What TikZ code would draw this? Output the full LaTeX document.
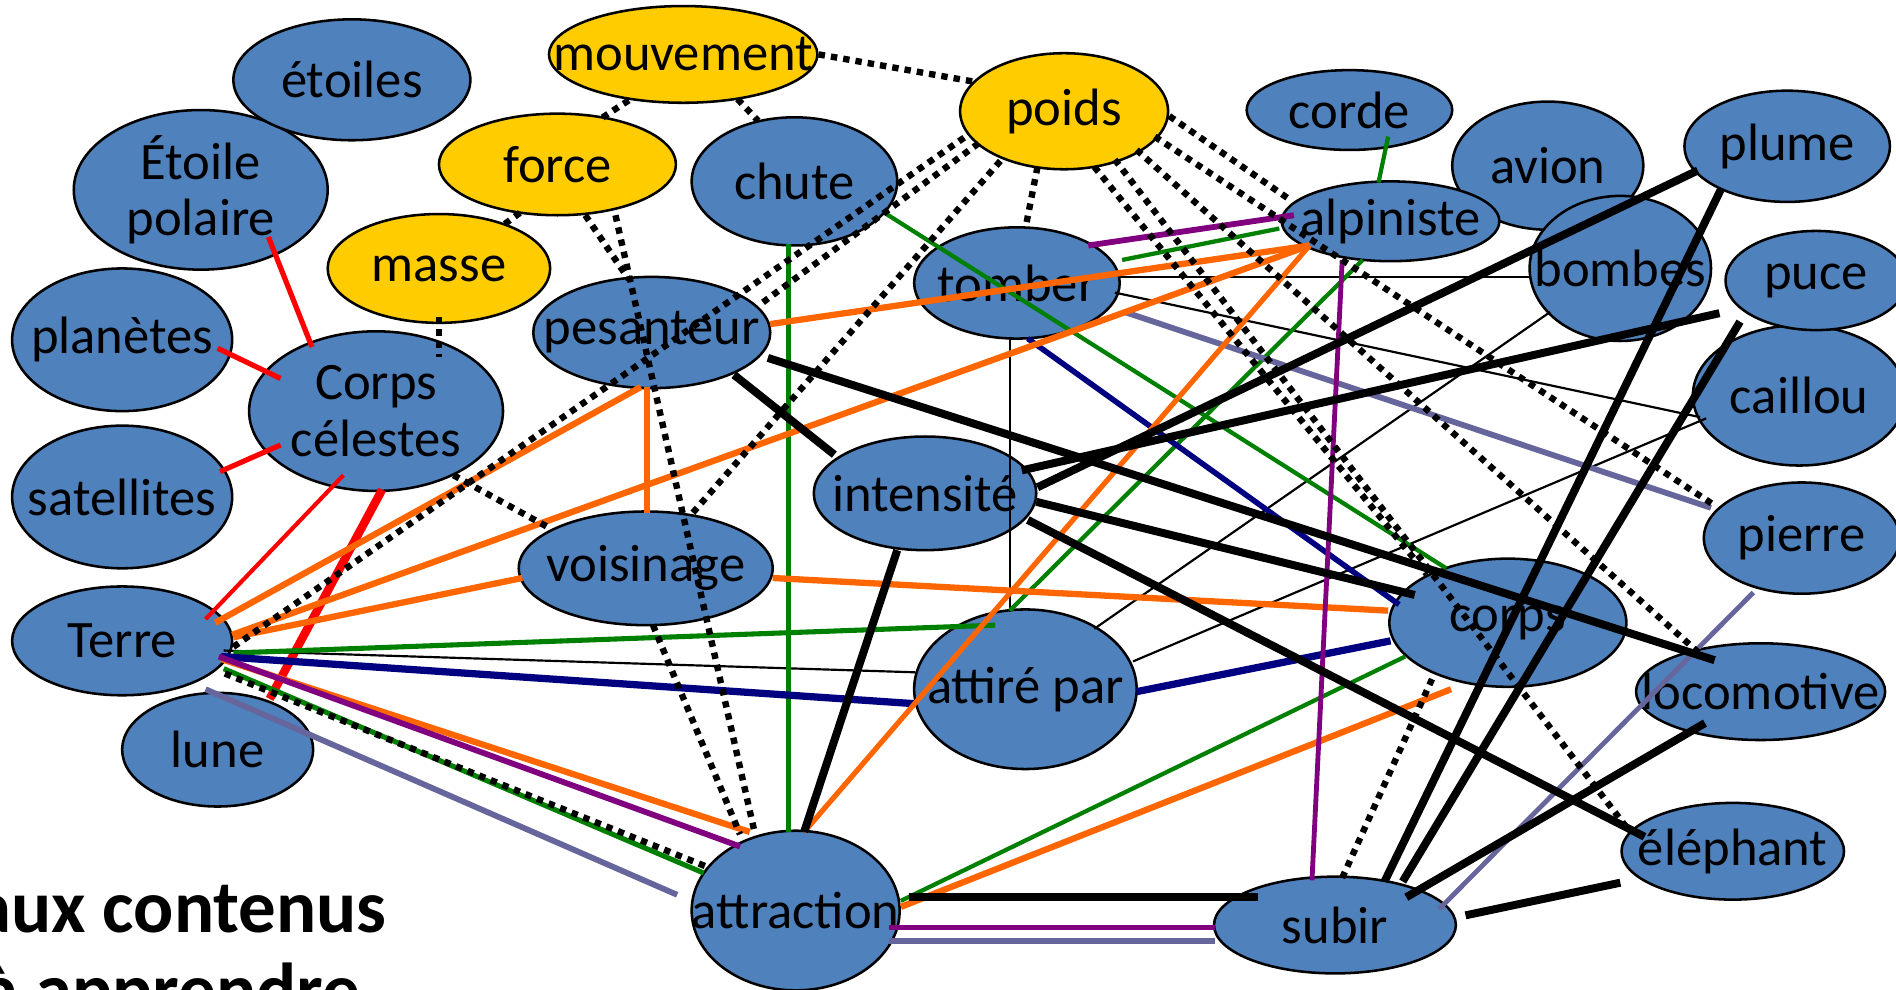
\documentclass[tikz,border=0pt]{standalone}
\usepackage{fontspec}
\setmainfont{Carlito}
\usetikzlibrary{shapes.geometric,calc}
\pgfdeclarelayer{bg}
\pgfsetlayers{bg,main}
\definecolor{nblue}{HTML}{4F81BD}
\definecolor{nyel}{HTML}{FFCC00}
\definecolor{cor}{HTML}{FF6600}
\definecolor{cgr}{HTML}{008000}
\definecolor{cpu}{HTML}{800080}
\definecolor{cnv}{HTML}{000080}
\definecolor{cgy}{HTML}{66669C}
\definecolor{cred}{HTML}{FF0000}
\tikzset{
  blob/.style={ellipse, draw=black, line width=2.1pt, fill=nblue, inner sep=0pt},
  yel/.style={blob, fill=nyel},
  lbl/.style={font=\fontsize{43.5}{47}\selectfont, inner sep=0pt, align=center},
  redl/.style={draw=cred, line width=4.3pt},
  redk/.style={draw=cred, line width=7pt},
  dots/.style={draw=black, line width=5.3pt, dash pattern=on 5.3pt off 5pt},
  thinb/.style={draw=black, line width=1.8pt},
  navyl/.style={draw=cnv, line width=4.6pt},
  greenl/.style={draw=cgr, line width=3.5pt},
  orl/.style={draw=cor, line width=5.2pt},
  purl/.style={draw=cpu, line width=4.8pt},
  greyl/.style={draw=cgy, line width=4.8pt},
  blk/.style={draw=black, line width=6.6pt},
  bigtxt/.style={font=\fontsize{62}{66}\selectfont\bfseries, inner sep=0pt}
}
\begin{document}
\begin{tikzpicture}[x=1pt,y=-1pt]
\useasboundingbox (0,0) rectangle (1568,818);
\clip (0,0) rectangle (1568,818);
\fill[white] (0,0) rectangle (1568,818);

% ---------- nodes ----------
\node[blob, minimum width=210, minimum height=132, label={[lbl]center:{Étoile\\polaire}}] (polaire) at (166,157) {};
\node[blob, minimum width=196, minimum height=100, label={[lbl]center:étoiles}] (etoiles) at (291,66) {};
\node[blob, minimum width=182, minimum height=118, label={[lbl]center:planètes}] (planetes) at (101,281) {};
\node[blob, minimum width=182, minimum height=118, label={[lbl]center:satellites}] (satellites) at (101,411) {};
\node[blob, minimum width=182, minimum height=90, label={[lbl]center:Terre}] (terre) at (101,530) {};
\node[blob, minimum width=158, minimum height=94, label={[lbl]center:lune}] (lune) at (180,620) {};
\node[blob, minimum width=210, minimum height=132, label={[lbl]center:{Corps\\célestes}}] (celestes) at (311,340) {};
\node[yel, minimum width=184, minimum height=90, label={[lbl]center:masse}] (masse) at (363,222) {};
\node[yel, minimum width=196, minimum height=84, label={[lbl]center:force}] (force) at (461,136) {};
\node[yel, minimum width=222, minimum height=80, label={[lbl]center:mouvement}] (mouvement) at (565,45) {};
\node[blob, minimum width=170, minimum height=106, label={[lbl]center:chute}] (chute) at (657,150) {};
\node[yel, minimum width=172, minimum height=96, label={[lbl]center:poids}] (poids) at (880,92) {};
\node[blob, minimum width=170, minimum height=66, label={[lbl]center:corde}] (corde) at (1116,91) {};
\node[blob, minimum width=158, minimum height=106, label={[lbl]center:avion}] (avion) at (1280,137) {};
\node[blob, minimum width=170, minimum height=92, label={[lbl]center:plume}] (plume) at (1478,121) {};
\node[blob, minimum width=150, minimum height=120, label={[lbl]center:bombes}] (bombes) at (1340,222) {};
\node[blob, minimum width=180, minimum height=66, label={[lbl]center:alpiniste}] (alpiniste) at (1150,183) {};
\node[blob, minimum width=176, minimum height=116, label={[lbl]center:caillou}] (caillou) at (1488,327) {};
\node[blob, minimum width=150, minimum height=82, label={[lbl]center:puce}] (puce) at (1502,232) {};
\node[blob, minimum width=162, minimum height=92, label={[lbl]center:pierre}] (pierre) at (1490,445) {};
\node[blob, minimum width=170, minimum height=92, label={[lbl]center:tomber}] (tomber) at (841,234) {};
\node[blob, minimum width=196, minimum height=92, label={[lbl]center:pesanteur}] (pesanteur) at (539,275) {};
\node[blob, minimum width=184, minimum height=94, label={[lbl]center:intensité}] (intensite) at (765,408) {};
\node[blob, minimum width=210, minimum height=94, label={[lbl]center:voisinage}] (voisinage) at (534,470) {};
\node[blob, minimum width=184, minimum height=132, label={[lbl]center:attiré par}] (attire) at (848,570) {};
\node[blob, minimum width=196, minimum height=106, label={[lbl]center:corps}] (corps) at (1247,515) {};
\node[blob, minimum width=206, minimum height=80, label={[lbl]center:locomotive}] (locomotive) at (1456,572) {};
\node[blob, minimum width=184, minimum height=80, label={[lbl]center:éléphant}] (elephant) at (1433,704) {};
\node[blob, minimum width=172, minimum height=132, label={[lbl]center:attraction}] (attraction) at (658,753) {};
\node[blob, minimum width=200, minimum height=80, label={[lbl]center:subir}] (subir) at (1104,765) {};

\node[bigtxt, anchor=base east] (auxc) at (320,771) {aux contenus};
\node[bigtxt, anchor=base east] (appr) at (298,840) {à apprendre};

% ---------- red ----------
\begin{pgfonlayer}{bg}
\draw[redl] ($(etoiles)+(9,37)$) -- ($(celestes)+(0,-55)$);
\end{pgfonlayer}
\draw[redl] ($(polaire)+(56,39)$) -- ($(celestes)+(-53,-53)$);
\draw[redl] ($(planetes)+(79,7)$) -- ($(celestes)+(-79,-27)$);
\draw[redl] ($(satellites)+(81,-21)$) -- ($(celestes)+(-79,28)$);
\draw[redl, line width=3.4pt] ($(terre)+(69,-18)$) -- ($(celestes)+(-27,53)$);
\draw[redk] ($(celestes)+(5,65)$) -- ($(lune)+(43,-42)$);

% ---------- thin black ----------
\draw[thinb] ($(tomber)+(85,-5)$) -- ($(bombes)+(-74,7)$);
\draw[thinb] ($(tomber)+(81,8)$) -- ($(caillou)+(-82,18)$);
\draw[thinb] ($(tomber)+(-6,46)$) -- ($(attire)+(-13,-64)$);
\draw[thinb] ($(terre)+(84,8)$) -- ($(attire)+(-91,-14)$);
\draw[thinb] ($(attire)+(57,-50)$) -- ($(bombes)+(-58,36)$);
\draw[thinb] ($(attire)+(89,-23)$) -- ($(caillou)+(-77,19)$);

% ---------- green ----------
\draw[greenl] ($(corde)+(32,22)$) -- ($(alpiniste)+(-10,-32)$);
\draw[greenl] ($(chute)+(-5,52)$) -- ($(attraction)+(-6,-65)$);
\draw[greenl] ($(chute)+(76,27)$) -- ($(corps)+(-51,-45)$);
\draw[greenl] ($(tomber)+(87,-19)$) -- ($(alpiniste)+(-92,6)$);
\draw[greenl, line width=4.2pt] ($(terre)+(92,10)$) -- ($(attire)+(-25,-53)$);
\draw[greenl] ($(attire)+(-13,-65)$) -- ($(alpiniste)+(-23,32)$);
\draw[greenl] ($(attraction)+(87,-8)$) -- ($(corps)+(-85,28)$);
\draw[greenl, line width=4.2pt] ($(terre)+(84,23)$) -- ($(attraction)+(-76,-31)$);

% ---------- navy ----------
\draw[navyl] ($(tomber)+(9,46)$) -- ($(corps)+(-90,-15)$);
\draw[navyl, line width=6pt] ($(terre)+(82,13)$) -- ($(attire)+(-91,12)$);
\draw[navyl, line width=6pt] ($(attire)+(92,2)$) -- ($(corps)+(-97,15)$);

% ---------- grey ----------
\draw[greyl] ($(tomber)+(89,24)$) -- ($(pierre)+(-75,-25)$);
\draw[greyl] ($(lune)+(-10,-50)$) -- ($(attraction)+(-98,-13)$);
\draw[greyl] ($(attraction)+(77,25)$) -- ($(subir)+(-99,13)$);
\draw[greyl, line width=4pt] ($(subir)+(86,-13)$) -- ($(pierre)+(-40,45)$);

% ---------- orange ----------
\draw[orl] ($(pesanteur)+(98,-7)$) -- ($(alpiniste)+(-67,20)$);
\draw[orl] ($(terre)+(77,-15)$) -- ($(pesanteur)+(-9,45)$);
\draw[orl] ($(pesanteur)+(-4,45)$) -- ($(voisinage)+(1,-46)$);
\draw[orl] ($(terre)+(92,-3)$) -- ($(voisinage)+(-102,8)$);
\draw[orl] ($(terre)+(91,-5)$) -- ($(alpiniste)+(-67,20)$);
\draw[orl] ($(voisinage)+(105,8)$) -- ($(corps)+(-99,-10)$);
\draw[orl] ($(terre)+(82,15)$) -- ($(attraction)+(-38,-65)$);
\draw[orl] ($(attraction)+(87,-3)$) -- ($(corps)+(-47,55)$);
\draw[orl, line width=4.3pt] ($(attraction)+(7,-65)$) -- ($(alpiniste)+(-67,20)$);

% ---------- purple ----------
\draw[purl] ($(tomber)+(59,-31)$) -- ($(alpiniste)+(-80,-5)$);
\draw[purl, line width=4pt] ($(alpiniste)+(-40,32)$) -- ($(subir)+(-19,-37)$);
\draw[purl] ($(terre)+(80,13)$) -- ($(attraction)+(-46,-53)$);
\draw[purl] ($(attraction)+(77,14)$) -- ($(subir)+(-99,2)$);

% ---------- dotted ----------
\draw[dots] ($(mouvement)+(-45,38)$) -- ($(force)+(36,-38)$);
\draw[dots] ($(mouvement)+(45,37)$) -- ($(chute)+(-30,-50)$);
\draw[dots] ($(mouvement)+(112,0)$) -- ($(poids)+(-72,-24)$);
\draw[dots] ($(force)+(-31,40)$) -- ($(masse)+(52,-35)$);
\draw[dots] ($(force)+(23,42)$) -- ($(pesanteur)+(-19,-44)$);
\draw[dots] ($(force)+(48,42)$) -- ($(attraction)+(-34,-65)$);
\draw[dots] ($(masse)+(0,40)$) -- ($(celestes)+(52,-45)$);
\draw[dots] ($(celestes)+(64,53)$) -- ($(voisinage)+(-79,-33)$);
\draw[dots] ($(voisinage)+(6,47)$) -- ($(attraction)+(-46,-63)$);
\draw[dots] ($(voisinage)+(39,-46)$) -- ($(poids)+(-50,38)$);
\draw[dots] ($(terre)+(92,5)$) -- ($(poids)+(-80,20)$);
\draw[dots] ($(pesanteur)+(92,-25)$) -- ($(poids)+(-70,26)$);
\draw[dots] ($(poids)+(-22,46)$) -- ($(tomber)+(7,-45)$);
\draw[dots] ($(terre)+(85,27)$) -- ($(attraction)+(-73,-36)$);
\draw[dots] ($(poids)+(87,4)$) -- ($(alpiniste)+(-82,-17)$);
\draw[dots] ($(poids)+(75,21)$) -- ($(pierre)+(-72,-27)$);
\draw[dots] ($(poids)+(60,32)$) -- ($(locomotive)+(-51,-32)$);
\draw[dots] ($(poids)+(25,46)$) -- ($(corps)+(-67,-40)$);
\draw[dots] ($(poids)+(42,40)$) -- ($(elephant)+(-85,-16)$);
\draw[dots] ($(subir)+(6,-39)$) -- ($(corps)+(-62,45)$);

% ---------- black thick ----------
\draw[blk] ($(pesanteur)+(68,35)$) -- ($(intensite)+(-75,-32)$);
\draw[blk] ($(pesanteur)+(96,21)$) -- ($(locomotive)+(-38,-26)$);
\draw[blk] ($(intensite)+(93,-5)$) -- ($(plume)+(-74,20)$);
\draw[blk] ($(intensite)+(80,-19)$) -- ($(puce)+(-80,27)$);
\draw[blk] ($(intensite)+(92,7)$) -- ($(corps)+(-77,-23)$);
\draw[blk] ($(intensite)+(85,22)$) -- ($(elephant)+(-73,-12)$);
\draw[blk] ($(intensite)+(-23,47)$) -- ($(attraction)+(7,-65)$);
\draw[blk] ($(attraction)+(94,-11)$) -- ($(subir)+(-64,-23)$);
\draw[blk] ($(subir)+(41,-36)$) -- ($(plume)+(-55,36)$);
\draw[blk] ($(subir)+(56,-36)$) -- ($(puce)+(-63,34)$);
\draw[blk] ($(subir)+(59,-23)$) -- ($(locomotive)+(-46,26)$);
\draw[blk] ($(subir)+(108,-8)$) -- ($(elephant)+(-93,26)$);
\end{tikzpicture}
\end{document}
